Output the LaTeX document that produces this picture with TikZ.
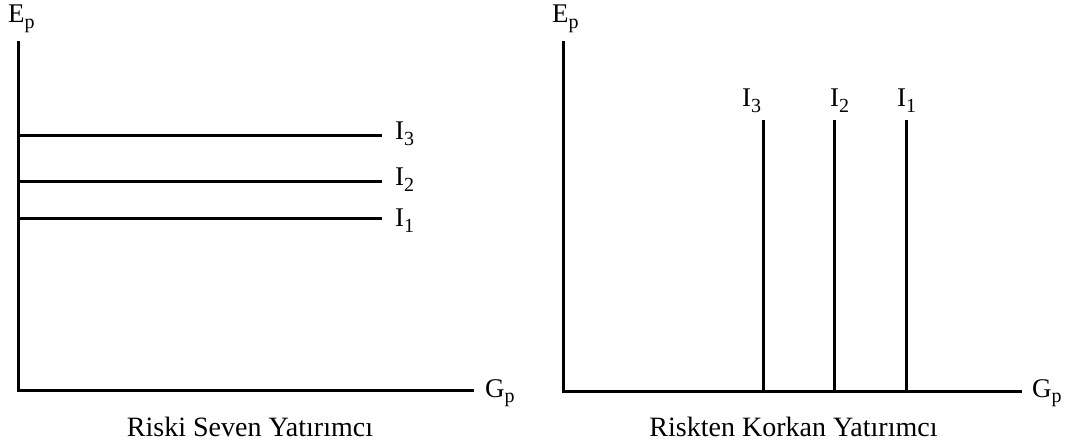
\documentclass[tikz,border=0pt]{standalone}
\usepackage{fontspec}
\setmainfont{Liberation Serif}
\newcommand\mysub[1]{\raisebox{-0.22em}{\fontsize{20}{20}\selectfont #1}}
\begin{document}
\begin{tikzpicture}[x=1pt,y=-1pt,
  axis/.style={line width=3pt,line cap=rect},
  curve/.style={line width=2.2pt},
  lbl/.style={inner sep=0pt,anchor=base west,font=\fontsize{27}{30}\selectfont},
  captxt/.style={inner sep=0pt,anchor=base,font=\fontsize{28}{30}\selectfont}]
\useasboundingbox (0,0) rectangle (1067,446);
% left panel
\coordinate (LO) at (18.5,390.5);
\coordinate (LT) at (18.5,43);
\coordinate (LX) at (472,390.5);
\draw[axis] (LT) -- (LO) -- (LX);
\node[lbl] (LEp) at (8,23) {E\mysub{p}};
\node[lbl] (LGp) at (485,397) {G\mysub{p}};
\coordinate (L3a) at (18.5,135.5); \coordinate (L3b) at (382,135.5);
\coordinate (L2a) at (18.5,181.5); \coordinate (L2b) at (382,181.5);
\coordinate (L1a) at (18.5,218.5); \coordinate (L1b) at (382,218.5);
\draw[curve] (L3a) -- (L3b);
\draw[curve] (L2a) -- (L2b);
\draw[curve] (L1a) -- (L1b);
\node[lbl] (LI3) at (395,140) {I\mysub{3}};
\node[lbl] (LI2) at (395,186) {I\mysub{2}};
\node[lbl] (LI1) at (395,227) {I\mysub{1}};
\node[captxt] (LC) at (250,436) {Riski Seven Yatırımcı};
% right panel
\coordinate (RO) at (563.5,391.5);
\coordinate (RT) at (563.5,43);
\coordinate (RX) at (1020,391.5);
\draw[axis] (RT) -- (RO) -- (RX);
\node[lbl] (REp) at (552,23) {E\mysub{p}};
\node[lbl] (RGp) at (1032,397) {G\mysub{p}};
\coordinate (R3a) at (763.5,120); \coordinate (R3b) at (763.5,391.5);
\coordinate (R2a) at (834.5,120); \coordinate (R2b) at (834.5,391.5);
\coordinate (R1a) at (906.5,120); \coordinate (R1b) at (906.5,391.5);
\draw[curve] (R3a) -- (R3b);
\draw[curve] (R2a) -- (R2b);
\draw[curve] (R1a) -- (R1b);
\node[lbl] (RI3) at (742,107) {I\mysub{3}};
\node[lbl] (RI2) at (830,107) {I\mysub{2}};
\node[lbl] (RI1) at (897,107) {I\mysub{1}};
\node[captxt] (RC) at (793.5,436) {Riskten Korkan Yatırımcı};
\end{tikzpicture}
\end{document}
